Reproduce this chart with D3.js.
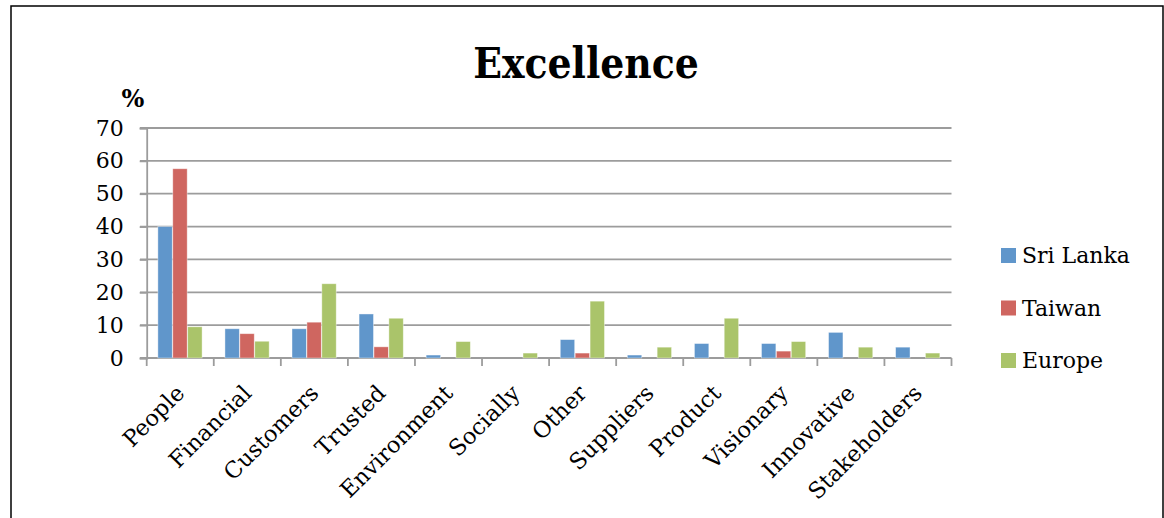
<!DOCTYPE html>
<html>
<head>
<meta charset="utf-8">
<script src="https://cdn.jsdelivr.net/npm/d3@7"></script>
<style>
  body { margin: 0; background: #fff; }
  text { font-family: "DejaVu Serif", serif; fill: #000; }
</style>
</head>
<body>
<div id="chart"></div>
<script>
// data
var categories = ["People", "Financial", "Customers", "Trusted", "Environment", "Socially",
    "Other", "Suppliers", "Product", "Visionary", "Innovative", "Stakeholders"];
var seriesNames = ["Sri Lanka", "Taiwan", "Europe"];
var sriLanka = [40, 8.9, 8.9, 13.4, 0.9, 0, 5.6, 0.9, 4.4, 4.4, 7.8, 3.3];
var taiwan = [57.6, 7.4, 10.9, 3.4, 0, 0, 1.5, 0, 0, 2.1, 0, 0];
var europe = [9.5, 5.1, 22.6, 12.1, 5, 1.5, 17.3, 3.3, 12.1, 5, 3.3, 1.5];
var yTicks = [0, 10, 20, 30, 40, 50, 60, 70];
var colors = ["#6096cb", "#cf6660", "#aac46a"];

var w = 1164;
var h = 518;
var allSeries = [sriLanka, taiwan, europe];

var svg = d3.select("#chart")
    .append("svg")
    .attr("width", w)
    .attr("height", h);

// outer frame
svg.append("path")
    .attr("d", "M11,518 V6 H1163 V518")
    .attr("fill", "none")
    .attr("stroke", "#000")
    .attr("stroke-width", 1.5);

var x = d3.scaleBand()
    .domain(categories)
    .range([146.7, 951.5]);

var xInner = d3.scaleBand()
    .domain(seriesNames)
    .range([x.bandwidth() / 6, x.bandwidth() * 5 / 6]);

var y = d3.scaleLinear()
    .domain([0, 70])
    .range([358, 128]);

// gridlines
svg.selectAll("line.grid")
    .data(yTicks)
    .enter()
    .append("line")
    .attr("class", "grid")
    .attr("x1", 140)
    .attr("x2", 951.5)
    .attr("y1", function (d) { return y(d); })
    .attr("y2", function (d) { return y(d); })
    .attr("stroke", "#9c9c9c")
    .attr("stroke-width", 1.8);

// y axis
var yAxis = d3.axisLeft(y)
    .tickValues(yTicks)
    .tickSize(7)
    .tickPadding(16);

var gy = svg.append("g")
    .attr("transform", "translate(146.7,0)")
    .call(yAxis);
gy.select(".domain").attr("stroke", "#9c9c9c").attr("stroke-width", 1.8);
gy.selectAll(".tick line").attr("stroke", "#9c9c9c").attr("stroke-width", 1.8);
gy.selectAll(".tick text")
    .attr("font-size", 22)
    .attr("font-family", "DejaVu Serif")
    .attr("fill", "#000");

// x axis ticks at category boundaries
var bounds = categories.map(function (c) { return x(c); }).concat([x.range()[1]]);
svg.selectAll("line.xtick")
    .data(bounds)
    .enter()
    .append("line")
    .attr("class", "xtick")
    .attr("x1", function (d) { return d; })
    .attr("x2", function (d) { return d; })
    .attr("y1", 358)
    .attr("y2", 366)
    .attr("stroke", "#9c9c9c")
    .attr("stroke-width", 1.8);

// bars
var groups = svg.selectAll("g.series")
    .data(allSeries)
    .enter()
    .append("g")
    .attr("class", "series")
    .attr("fill", function (d, i) { return colors[i]; });

groups.selectAll("rect")
    .data(function (d, i) {
        return d.map(function (v, j) { return { cat: categories[j], s: seriesNames[i], v: v }; });
    })
    .enter()
    .filter(function (d) { return d.v > 0; })
    .append("rect")
    .attr("x", function (d) { return x(d.cat) + xInner(d.s); })
    .attr("y", function (d) { return y(d.v); })
    .attr("width", xInner.bandwidth() - 0.5)
    .attr("height", function (d) { return y(0) - y(d.v); })
    .attr("stroke", "#ffffff")
    .attr("stroke-opacity", 0.5)
    .attr("stroke-width", 0.8);

// category labels
svg.selectAll("text.cat")
    .data(categories)
    .enter()
    .append("text")
    .attr("class", "cat")
    .attr("font-size", 22.5)
    .attr("text-anchor", "end")
    .attr("transform", function (d) {
        return "translate(" + (x(d) + x.bandwidth() / 2) + ",389) rotate(-45)";
    })
    .attr("dy", "0.35em")
    .text(function (d) { return d; });

// title
svg.append("text")
    .attr("x", 586)
    .attr("y", 78)
    .attr("text-anchor", "middle")
    .attr("font-size", 42)
    .attr("font-weight", "bold")
    .style("font-family", "'DejaVu Serif Condensed', 'DejaVu Serif'")
    .style("font-stretch", "condensed")
    .text("Excellence");

svg.append("text")
    .attr("x", 133)
    .attr("y", 107)
    .attr("text-anchor", "middle")
    .attr("font-size", 24)
    .attr("font-weight", "bold")
    .text("%");

// legend
var legend = svg.selectAll("g.legend")
    .data(seriesNames)
    .enter()
    .append("g")
    .attr("class", "legend")
    .attr("transform", function (d, i) { return "translate(1001," + (255.5 + i * 52.5) + ")"; });

legend.append("rect")
    .attr("x", 0)
    .attr("y", -7.5)
    .attr("width", 15)
    .attr("height", 15)
    .attr("fill", function (d, i) { return colors[i]; });

legend.append("text")
    .attr("x", 21)
    .attr("y", 0)
    .attr("dy", "0.35em")
    .attr("font-size", 22)
    .text(function (d) { return d; });
</script>
</body>
</html>
